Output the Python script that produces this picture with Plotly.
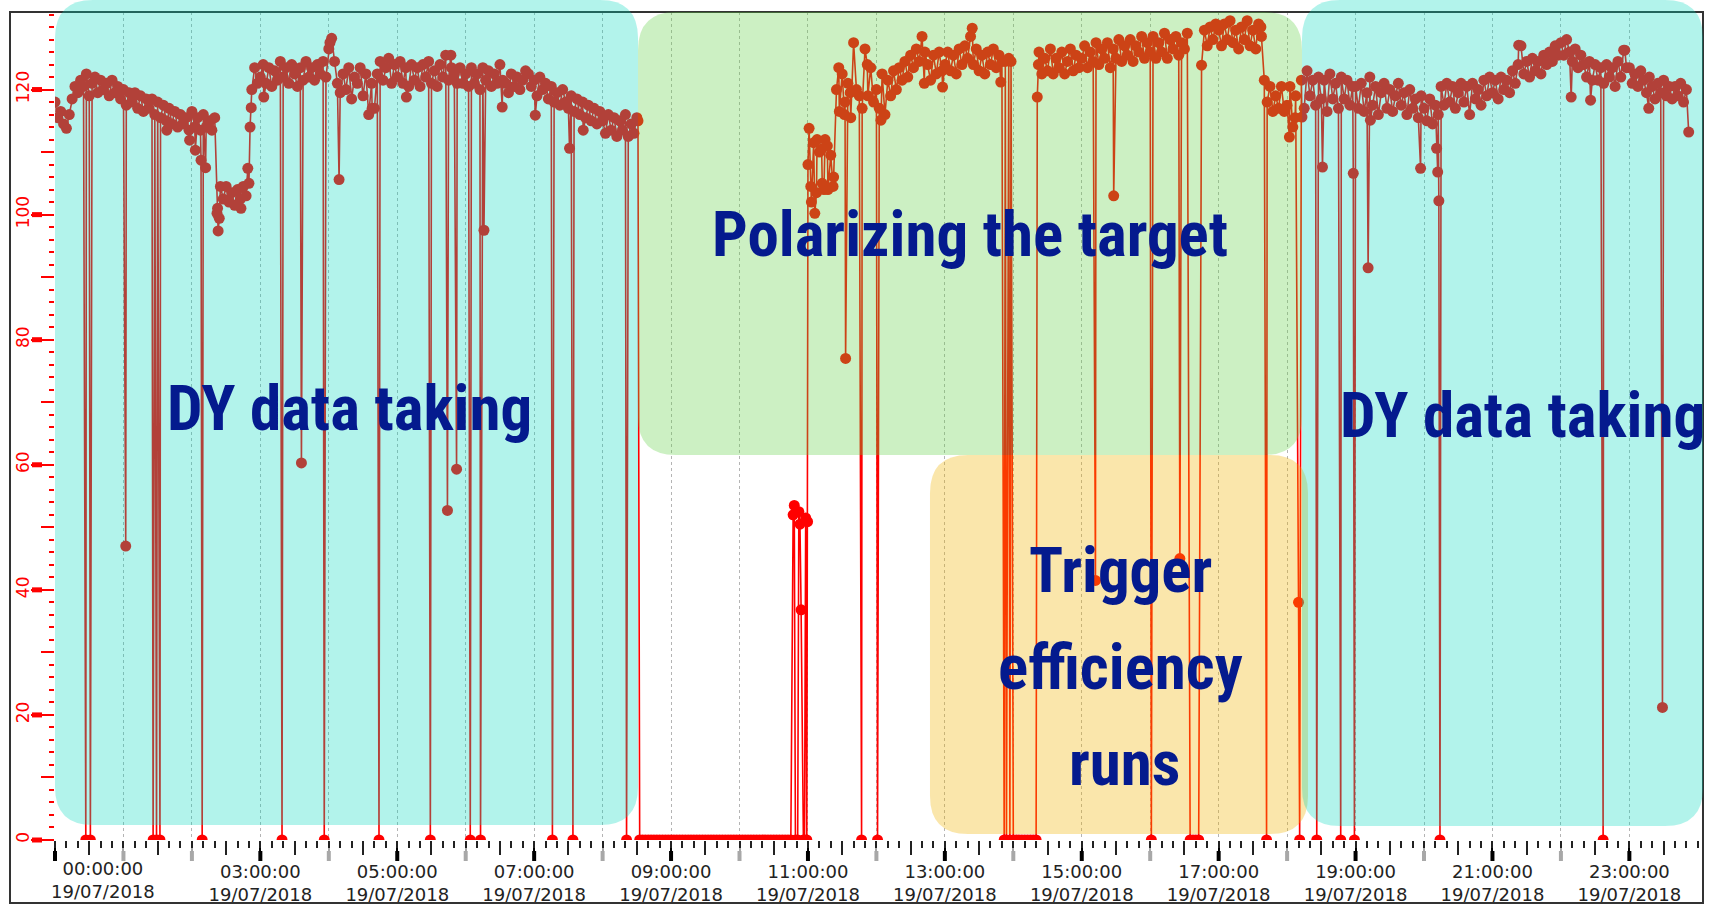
import plotly.graph_objects as go
import pandas as pd

DAY = "2018-07-19"

# ---- band readings, one value every 2.5 minutes starting at HH:00 ----
h00 = [118, 115.5, 116.5, 114.5, 113.8, 116, 118.5, 120.5, 119.5, 121.5, 120.5, 122.5,
       119, 121, 122, 119.5, 121.5, 120, 121, 119, 121.5, 119.5, 120.5, 118.5]
h01 = [120, 117.5, 119.5, 118, 119.5, 117, 119, 116.5, 118.5, 117, 118.5, 116,
       118, 115.5, 117.5, 115, 117, 114.5, 116.5, 114, 116, 114.5, 115.5, 113.5]
h02 = [116.5, 114, 115.5, 113.5, 116, 114, 115, 113.5, 115.5, 101, 104.5, 102.5,
       104.5, 102, 103.5, 101.5, 104, 102.5, 104.5, 103, 105, 120, 123.5, 121]
h03 = [122, 124, 121, 123.5, 120.5, 123, 121.5, 124.5, 122, 123.5, 121, 124,
       122.5, 120.5, 123.5, 121.5, 124.5, 122, 123.5, 121.5, 124, 122.5, 124.5, 122]
h04 = [126.5, 128.2, 124.5, 121, 119.5, 122.5, 120, 123.5, 118.5, 122, 121, 123.5,
       119, 122.5, 116, 121, 117, 122.5, 124.5, 121.5, 123.5, 125, 121, 124]
h05 = [122, 124.5, 121, 123.5, 120.5, 124, 121.5, 123.5, 120.5, 124, 122, 124.5,
       121, 123, 120.5, 124, 122, 125.5, 121.5, 123.5, 122.5, 121, 123.5, 121]
h06 = [122.5, 120.5, 123.5, 121, 122.5, 120, 123.5, 121.5, 123, 120.5, 122.5, 121,
       124, 121.5, 121, 119.5, 122.5, 120.5, 122, 120, 121.5, 123, 122.5, 120.5]
h07 = [121.5, 119, 122, 120, 121, 118.5, 120.5, 118, 119.5, 117.5, 120, 118,
       117, 119, 116.5, 118.5, 116, 118, 115.5, 117.5, 115, 117, 114.5, 116.5]
h08 = [115, 113, 116, 113.5, 115.5, 112.5, 115, 113.5, 116, 112.5, 114.5, 113,
       115.5, 0, 0, 0, 0, 0, 0, 0, 0, 0, 0, 0]
h09 = [0, 0, 0, 0, 0, 0, 0, 0, 0, 0, 0, 0, 0, 0, 0, 0, 0, 0, 0, 0, 0, 0, 0, 0]
h10 = [0, 0, 0, 0, 0, 0, 0, 0, 0, 0, 0, 0, 0, 0, 0, 0, 0, 0, 0]
h11 = [108, 104.5, 111.5, 103.5, 110, 105, 112, 104, 109.5, 106, 120, 116.5,
       122.5, 118, 121, 115.5, 127.5, 120, 119, 117, 126.5, 119, 123.5, 118]
h12 = [120, 117, 122.5, 116, 121.5, 119, 123, 120, 123.5, 121.5, 124.5, 122,
       125.5, 123.5, 126.5, 124.5, 128.5, 126, 124, 121.5, 125.5, 122.5, 126, 123]
h13 = [124, 126, 123, 125.5, 122.5, 126.5, 124, 127, 125, 128.5, 124, 126.5,
       123, 125.5, 122.5, 126, 124, 126.5, 123.5, 125.5, 124.5]
h14 = [0, 0, 0, 0, 0, 0, 0, 0, 0, 126, 122.5, 125,
       123, 126.5, 122.5, 125, 123.5, 126, 122.5, 124.5, 126.5, 123, 125.5, 123.5]
h15 = [125, 127, 123.5, 126, 124.5, 127.5, 124, 126.5, 125, 127.5, 123.5, 126.5,
       125, 128, 124.5, 127, 125.5, 128, 124.5, 127, 126, 128.5, 125, 127.5]
h16 = [126, 128.5, 125, 127.5, 126, 129, 125, 128, 126.5, 128.5, 125.5, 127.5,
       126.5, 129, 0, 0, 0, 0, 123.9, 129.5, 127, 130, 128, 130.5]
h17 = [129.5, 127, 130.5, 128, 131, 127.5, 129.5, 126.5, 130, 128, 131, 127,
       129.5, 126.5, 130.5, 128.5, 121.5, 118, 120.5, 116.5, 119, 117, 120.5, 116.5]
h18 = [117.5, 120.5, 114, 119, 38, 121.5, 117, 123, 119, 121.5, 117.5, 122,
       118.5, 121.5, 116.5, 122.5, 118.5, 121, 117, 122, 118.5, 121.5, 117.5, 120.5]
h19 = [120.5, 117, 121, 116.5, 119.5, 122, 117.5, 120.5, 116, 119.5, 121, 117,
       120, 116.5, 119, 121, 117.5, 119.5, 116, 120, 117, 118.5, 115.5, 119]
h20 = [117, 115, 118.5, 114.5, 117.5, 116, 120.5, 117.5, 121, 118, 120.5, 117,
       119.5, 121, 118, 120.5, 116, 121, 118.5, 120, 117.5, 121.5, 119, 122]
h21 = [119.5, 121.5, 118.5, 122, 120, 121.5, 119.5, 123, 121, 124, 127, 122.5,
       124.5, 122, 125, 123, 124.5, 122.5, 125.5, 124, 126, 124.5, 127, 125.5]
h22 = [127.5, 125.5, 128, 126, 124.5, 126.5, 123.5, 125.5, 124, 122, 124.5, 121.5,
       124, 121.5, 123.5, 121, 124, 122, 123.5, 120.5, 124.5, 122, 126.3, 123.5]
h23 = [123.5, 121, 122.5, 120.5, 123, 121.5, 119.5, 122, 120.5, 118.5, 121, 119.5,
       121.5, 119, 120.5, 118.5, 120.5, 119, 121, 118, 120]

# ---- irregular readings: drop-outs and outliers ----
event_times = [
    "00:27", "00:31", "01:02", "01:26", "01:29", "01:32", "01:38", "01:58",
    "02:03", "02:08", "02:09", "02:12", "02:22", "02:23", "02:24", "02:43",
    "02:49", "02:51", "02:52", "03:03", "03:19", "03:36", "03:56",
    "04:01", "04:09", "04:38", "04:44",
    "05:08", "05:29", "05:44", "05:47", "05:52",
    "06:04", "06:13", "06:16", "06:32",
    "07:01", "07:16", "07:31", "07:34", "07:43", "08:21", "08:31",
    "10:47", "10:48", "10:49", "10:51", "10:52", "10:53", "10:54", "10:56",
    "10:57", "10:58", "10:59", "10:59:40",
    "11:01", "11:03", "11:06", "11:08", "11:12", "11:14", "11:17",
    "11:22", "11:27", "11:32", "11:33", "11:37", "11:47", "11:52",
    "12:01", "12:04", "12:42", "12:58",
    "13:24", "13:49", "13:52", "13:53", "13:54", "13:56", "13:57", "13:58",
    "14:21", "14:22", "15:12", "15:28",
    "16:01", "16:26", "17:37", "17:42",
    "18:02", "18:07", "18:11", "18:13", "18:26", "18:31", "18:47", "18:58", "18:59",
    "19:11", "19:13", "19:57",
    "20:11", "20:12", "20:13", "20:14",
    "21:23", "22:09", "22:26", "22:37", "22:56",
    "23:17", "23:29", "23:52",
]
event_values = [
    0, 0, 47, 0, 0, 0, 113.5, 111.9,
    110.3, 108.7, 0, 107.5, 100.2, 97.4, 99.4, 101,
    107.4, 114, 117.1, 118.8, 0, 60.3, 0,
    127.5, 105.6, 117, 0,
    118.8, 0, 52.7, 125.5, 59.3,
    0, 0, 97.5, 117.2,
    115.9, 0, 110.6, 0, 113.5, 0, 115,
    52, 53.5, 0, 0, 52.5, 50.5, 36.8, 0,
    0, 51.5, 0, 50.9,
    113.8, 102, 100.2, 112, 110.5, 104, 111,
    104.5, 123.5, 116, 77, 119.5, 0, 124,
    0, 115.1, 121, 120.4,
    129.8, 121.2, 0, 124.5, 0, 125, 0, 124.5,
    118.8, 124, 41.5, 103,
    0, 45, 130, 0,
    112.4, 115.5, 0, 115.6, 0, 107.6, 0, 106.6, 0,
    91.5, 115.1, 107.4,
    110.6, 106.8, 102.2, 0,
    127.1, 118.8, 118.3, 0, 126.3,
    117, 21.2, 113.2,
]

# ---- axis ticks ----
labeled_hours = ["00:00", "03:00", "05:00", "07:00", "09:00", "11:00", "13:00",
                 "15:00", "17:00", "19:00", "21:00", "23:00"]
unlabeled_hours = ["01:00", "02:00", "04:00", "06:00", "08:00", "10:00", "12:00",
                   "14:00", "16:00", "18:00", "20:00", "22:00"]
half_hours = ["00:30", "01:30", "02:30", "03:30", "04:30", "05:30", "06:30", "07:30",
              "08:30", "09:30", "10:30", "11:30", "12:30", "13:30", "14:30", "15:30",
              "16:30", "17:30", "18:30", "19:30", "20:30", "21:30", "22:30", "23:30"]
date_label = "19/07/2018"
y_major = [0, 20, 40, 60, 80, 100, 120]
y_mid = [10, 30, 50, 70, 90, 110]

X_START = f"{DAY} 00:00:00"
X_END = "2018-07-20 00:01:55"
Y_MAX = 132.4

# ---- build series ----
hourly = [h00, h01, h02, h03, h04, h05, h06, h07, h08, h09, h10, h11,
          h12, h13, h14, h15, h16, h17, h18, h19, h20, h21, h22, h23]
ts, vs = [], []
for h, vals in enumerate(hourly):
    base = pd.Timestamp(f"{DAY} {h:02d}:00:00")
    for i, v in enumerate(vals):
        ts.append(base + pd.Timedelta(seconds=150 * i))
        vs.append(v)
for t, v in zip(event_times, event_values):
    ts.append(pd.Timestamp(f"{DAY} {t}"))
    vs.append(v)
order = sorted(range(len(ts)), key=lambda i: ts[i])
xs = [ts[i] for i in order]
ys = [vs[i] for i in order]

fig = go.Figure()
fig.add_trace(go.Scatter(
    x=xs, y=ys, mode="lines+markers",
    line=dict(color="#ff0000", width=1.6),
    marker=dict(color="#ff0000", size=11),
    showlegend=False, hoverinfo="skip",
))

# ---- geometry (pixels of the 1709x913 page) ----
FW, FH = 1709, 913
L, R, T, B = 55, 1700, 12, 840
W, H = R - L, B - T


def px(x):
    return (x - L) / W


def py(y):
    return (B - y) / H


def rrect(x0, y0, x1, y1, r):
    def P(x, y):
        return f"{px(x):.5f},{py(y):.5f}"
    return (f"M {P(x0 + r, y0)} L {P(x1 - r, y0)} Q {P(x1, y0)} {P(x1, y0 + r)} "
            f"L {P(x1, y1 - r)} Q {P(x1, y1)} {P(x1 - r, y1)} "
            f"L {P(x0 + r, y1)} Q {P(x0, y1)} {P(x0, y1 - r)} "
            f"L {P(x0, y0 + r)} Q {P(x0, y0)} {P(x0 + r, y0)} Z")


shapes = []
shapes.append(dict(type="rect", xref="paper", yref="paper",
                   x0=px(10), x1=px(1703), y0=py(903), y1=py(12),
                   line=dict(color="#333333", width=2), layer="above"))

x0t = pd.Timestamp(X_START)
span_h = (pd.Timestamp(X_END) - x0t).total_seconds() / 3600
for hh, col in [(labeled_hours, "#000000"), (unlabeled_hours, "#a8a8a8")]:
    for s in hh:
        hpos = (pd.Timestamp(f"{DAY} {s}") - x0t).total_seconds() / 3600
        xp = hpos / span_h
        shapes.append(dict(type="line", xref="paper", yref="paper",
                           x0=xp, x1=xp, y0=py(851), y1=py(861),
                           line=dict(color=col, width=4), layer="above"))
for v in y_major:
    yp = v / Y_MAX
    shapes.append(dict(type="line", xref="paper", yref="paper",
                       x0=px(32), x1=px(42), y0=yp, y1=yp,
                       line=dict(color="#ff0000", width=5), layer="above"))

shapes.append(dict(type="path", xref="paper", yref="paper", layer="above",
                   path=rrect(55, 0, 638, 825, 38),
                   fillcolor="rgba(0,215,188,0.30)", line=dict(width=0)))
shapes.append(dict(type="path", xref="paper", yref="paper", layer="above",
                   path=rrect(638, 12, 1302, 455, 38),
                   fillcolor="rgba(96,208,67,0.32)", line=dict(width=0)))
shapes.append(dict(type="path", xref="paper", yref="paper", layer="above",
                   path=rrect(930, 455, 1308, 834, 38),
                   fillcolor="rgba(240,179,0,0.33)", line=dict(width=0)))
shapes.append(dict(type="path", xref="paper", yref="paper", layer="above",
                   path=rrect(1302, 0, 1703, 826, 38),
                   fillcolor="rgba(0,215,188,0.30)", line=dict(width=0)))

NAVY = "#041a8e"
BIG = dict(family="Roboto Condensed, Liberation Sans Narrow, sans-serif",
           size=63, color=NAVY, weight="bold")
annotations = []
for text, x, y in [("DY data taking", 349, 408), ("DY data taking", 1522, 415),
                   ("Polarizing the target", 970, 235), ("Trigger", 1120, 570),
                   ("efficiency", 1120, 667), ("runs", 1124, 763)]:
    annotations.append(dict(text=text, xref="paper", yref="paper", x=px(x), y=py(y),
                            xanchor="center", yanchor="middle", showarrow=False, font=BIG))
annotations.append(dict(text=f"00:00:00<br>{date_label}", xref="paper", yref="paper",
                        x=px(103), y=py(856), xanchor="center", yanchor="top",
                        showarrow=False,
                        font=dict(family="DejaVu Sans", size=18, color="#222222")))

tick_text = ["" if s == "00:00" else f"{s}:00<br>{date_label}" for s in labeled_hours]
GRID = dict(showgrid=True, gridcolor="#b4b4b4", griddash="dot", gridwidth=1)
NOAUTO = dict(automargin=False, showline=False, zeroline=False)

fig.update_layout(
    width=FW, height=FH,
    margin=dict(l=L, r=FW - R, t=T, b=FH - B, autoexpand=False),
    paper_bgcolor="white", plot_bgcolor="white",
    showlegend=False,
    shapes=shapes, annotations=annotations,
    xaxis=dict(type="date", range=[X_START, X_END], tickmode="array",
               tickvals=[f"{DAY} {s}" for s in labeled_hours], ticktext=tick_text,
               ticks="outside", ticklen=20, tickwidth=1.5, tickcolor="#000000",
               ticklabelstandoff=-5,
               tickfont=dict(family="DejaVu Sans", size=18, color="#222222"),
               **NOAUTO, **GRID),
    xaxis2=dict(type="date", range=[X_START, X_END], overlaying="x", anchor="y",
                side="bottom", tickmode="array",
                tickvals=[f"{DAY} {s}" for s in unlabeled_hours],
                ticks="outside", ticklen=20, tickwidth=1.5, tickcolor="#a8a8a8",
                showticklabels=False, **NOAUTO, **GRID),
    xaxis3=dict(type="date", range=[X_START, X_END], overlaying="x", anchor="y",
                side="bottom", tickmode="array",
                tickvals=[f"{DAY} {s}" for s in half_hours],
                ticks="outside", ticklen=14, tickwidth=1.5, tickcolor="#222222",
                showticklabels=False, showgrid=False, **NOAUTO),
    xaxis4=dict(type="date", range=[X_START, X_END], overlaying="x", anchor="y",
                side="bottom", tickmode="linear", tick0=X_START, dtick=600000,
                ticks="outside", ticklen=7, tickwidth=1.5, tickcolor="#222222",
                showticklabels=False, showgrid=False, **NOAUTO),
    yaxis=dict(range=[0, Y_MAX], tickmode="array", tickvals=y_major,
               ticks="outside", ticklen=23, tickwidth=1.5, tickcolor="#ff0000",
               tickangle=-90, ticklabelstandoff=-5,
               tickfont=dict(family="DejaVu Sans", size=17, color="#ff0000"),
               minor=dict(ticks="outside", dtick=2, ticklen=5, tickwidth=2,
                          tickcolor="#ff0000", showgrid=False),
               showgrid=False, **NOAUTO),
    yaxis2=dict(range=[0, Y_MAX], overlaying="y", anchor="x", side="left",
                tickmode="array", tickvals=y_mid, ticks="outside", ticklen=13,
                tickwidth=1.5, tickcolor="#ff0000", showticklabels=False,
                showgrid=False, **NOAUTO),
)

for ax in ["x2", "x3", "x4"]:
    fig.add_trace(go.Scatter(x=[], y=[], xaxis=ax, yaxis="y", showlegend=False))
fig.add_trace(go.Scatter(x=[], y=[], xaxis="x", yaxis="y2", showlegend=False))

fig.write_html("out.html")
